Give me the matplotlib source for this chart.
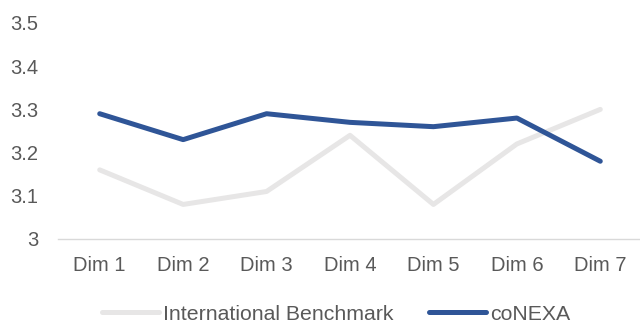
import numpy as np
import matplotlib
matplotlib.use("Agg")
from matplotlib import pyplot as plt

dims = ["Dim 1", "Dim 2", "Dim 3", "Dim 4", "Dim 5", "Dim 6", "Dim 7"]
benchmark = [3.16, 3.08, 3.11, 3.24, 3.08, 3.22, 3.30]
conexa = [3.29, 3.23, 3.29, 3.27, 3.26, 3.28, 3.18]
yticks = [3, 3.1, 3.2, 3.3, 3.4, 3.5]
ytick_labels = ["3", "3.1", "3.2", "3.3", "3.4", "3.5"]

plt.rcParams['font.family'] = ['Liberation Sans', 'DejaVu Sans']
text_col = "#595959"
fs = 14.5

fig = plt.figure(figsize=(6.4, 3.22), dpi=100)
ax = fig.add_axes([58 / 640, 1 - 239 / 322, 584 / 640, (239 - 23) / 322])

x = np.arange(len(dims))
ax.plot(x, benchmark, color="#e7e6e6", lw=3.6, solid_capstyle="round",
        solid_joinstyle="round", label="International Benchmark")
ax.plot(x, conexa, color="#2f5597", lw=3.6, solid_capstyle="round",
        solid_joinstyle="round", label="coNEXA")

ax.set_xlim(-0.5, len(dims) - 0.5)
ax.set_ylim(3, 3.5)
ax.set_xticks(x)
ax.set_xticklabels(dims)
ax.set_yticks(yticks)
ax.set_yticklabels(ytick_labels)
ax.tick_params(axis="both", length=0, labelsize=fs, colors=text_col)
ax.tick_params(axis="x", pad=12)
ax.tick_params(axis="y", pad=14)

for side in ["top", "right", "left"]:
    ax.spines[side].set_visible(False)
ax.spines["bottom"].set_color("#d9d9d9")
ax.spines["bottom"].set_linewidth(1.0)
ax.spines["bottom"].set_zorder(0)

# legend row along the bottom edge
leg = fig.legend(loc="center", bbox_to_anchor=(0.525, 1 - 314 / 322), ncol=2,
                 frameon=False, fontsize=15.3, handlelength=2.68,
                 handletextpad=0.19, columnspacing=1.65)
for t in leg.get_texts():
    t.set_color(text_col)

fig.savefig("out.png", dpi=100)
